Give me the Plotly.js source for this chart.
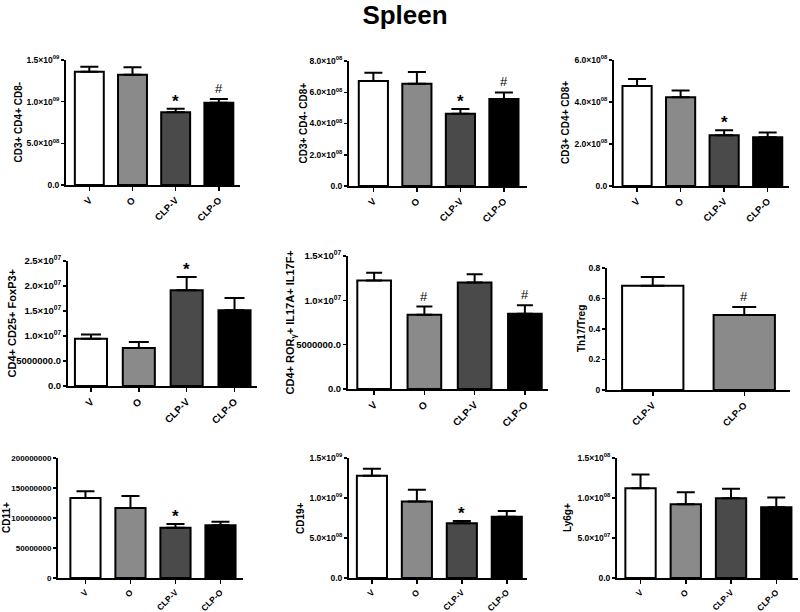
<!DOCTYPE html>
<html>
<head>
<meta charset="utf-8">
<script src="https://cdn.plot.ly/plotly-3.0.1.min.js"></script>
<style>html,body{margin:0;padding:0;background:#fff;}#chart{width:800px;height:612px;}</style>
</head>
<body>
<div id="chart"></div>
<script>
// ---------- DATA ----------
const cats4 = ['V', 'O', 'CLP-V', 'CLP-O'];
const cats2 = ['CLP-V', 'CLP-O'];

const cd3cd4Mean = [1.36e9, 1.324e9, 0.872e9, 0.988e9];
const cd3cd4Sem  = [0.06e9, 0.088e9, 0.044e9, 0.044e9];
const cd3cd4Sig  = ['', '', '*', '#'];

const cd3cd8Mean = [6.72e8, 6.55e8, 4.63e8, 5.57e8];
const cd3cd8Sem  = [0.53e8, 0.75e8, 0.30e8, 0.42e8];
const cd3cd8Sig  = ['', '', '*', '#'];

const dpMean = [4.76e8, 4.23e8, 2.42e8, 2.32e8];
const dpSem  = [0.33e8, 0.32e8, 0.24e8, 0.23e8];
const dpSig  = ['', '', '*', ''];

const tregMean = [0.944e7, 0.758e7, 1.915e7, 1.516e7];
const tregSem  = [0.086e7, 0.12e7, 0.265e7, 0.246e7];
const tregSig  = ['', '', '*', ''];

const th17Mean = [1.2225e7, 0.836e7, 1.2e7, 0.8475e7];
const th17Sem  = [0.09e7, 0.094e7, 0.094e7, 0.0975e7];
const th17Sig  = ['', '#', '', '#'];

const ratioMean = [0.684, 0.491];
const ratioSem  = [0.057, 0.053];
const ratioSig  = ['', '#'];

const cd11Mean = [1.333e8, 1.167e8, 0.839e8, 0.878e8];
const cd11Sem  = [0.111e8, 0.2e8, 0.061e8, 0.061e8];
const cd11Sig  = ['', '', '*', ''];

const cd19Mean = [1.278e9, 0.955e9, 0.683e9, 0.767e9];
const cd19Sem  = [0.088e9, 0.147e9, 0.029e9, 0.071e9];
const cd19Sig  = ['', '', '*', ''];

const ly6gMean = [1.123e8, 0.922e8, 0.997e8, 0.884e8];
const ly6gSem  = [0.172e8, 0.151e8, 0.118e8, 0.122e8];
const ly6gSig  = ['', '', '', ''];

// tick labels
const ticks15e9 = [0, 5e8, 1e9, 1.5e9];
const ticks15e9Text = ['0.0', '5.0×10<sup>08</sup>', '1.0×10<sup>09</sup>', '1.5×10<sup>09</sup>'];
const ticks8e8 = [0, 2e8, 4e8, 6e8, 8e8];
const ticks8e8Text = ['0.0', '2.0×10<sup>08</sup>', '4.0×10<sup>08</sup>', '6.0×10<sup>08</sup>', '8.0×10<sup>08</sup>'];
const ticks6e8 = [0, 2e8, 4e8, 6e8];
const ticks6e8Text = ['0.0', '2.0×10<sup>08</sup>', '4.0×10<sup>08</sup>', '6.0×10<sup>08</sup>'];
const ticks25e7 = [0, 5e6, 1e7, 1.5e7, 2e7, 2.5e7];
const ticks25e7Text = ['0.0', '5000000.0', '1.0×10<sup>07</sup>', '1.5×10<sup>07</sup>', '2.0×10<sup>07</sup>', '2.5×10<sup>07</sup>'];
const ticks15e7 = [0, 5e6, 1e7, 1.5e7];
const ticks15e7Text = ['0.0', '5000000.0', '1.0×10<sup>07</sup>', '1.5×10<sup>07</sup>'];
const ticksRatio = [0, 0.2, 0.4, 0.6, 0.8];
const ticksRatioText = ['0', '0.2', '0.4', '0.6', '0.8'];
const ticks2e8 = [0, 5e7, 1e8, 1.5e8, 2e8];
const ticks2e8Text = ['0', '50000000', '100000000', '150000000', '200000000'];
const ticks15e8 = [0, 5e7, 1e8, 1.5e8];
const ticks15e8Text = ['0.0', '5.0×10<sup>07</sup>', '1.0×10<sup>08</sup>', '1.5×10<sup>08</sup>'];

const yTitles = ['CD3+ CD4+ CD8-', 'CD3+ CD4- CD8+', 'CD3+ CD4+ CD8+',
  'CD4+ CD25+ FoxP3+', 'CD4+ ROR<sub>γ</sub>+ IL17A+ IL17F+', 'Th17/Treg',
  'CD11+', 'CD19+', 'Ly6g+'];

// ---------- STYLE / LAYOUT ----------
const groupColors = {'V': '#ffffff', 'O': '#8a8a8a', 'CLP-V': '#4a4a4a', 'CLP-O': '#000000'};
const ratioColors = ['#ffffff', '#8a8a8a'];

const W = 800, H = 612;
// px boxes: [x0, x1, y0, y1], x range, y max, tick font size, title font size, title x(px), error half-width
const panels = [
  {cats: cats4, mean: cd3cd4Mean, sem: cd3cd4Sem, sig: cd3cd4Sig, box: [66, 240, 60, 185], xr: [-0.54, 3.49], ymax: 1.5e9, tv: ticks15e9, tt: ticks15e9Text, tf: 8.5, xtf: 9.5, ttf: 10, tx: 18, ew: 9},
  {cats: cats4, mean: cd3cd8Mean, sem: cd3cd8Sem, sig: cd3cd8Sig, box: [349, 527, 61, 186], xr: [-0.56, 3.53], ymax: 8e8, tv: ticks8e8, tt: ticks8e8Text, tf: 8.5, xtf: 9.5, ttf: 10, tx: 303, ew: 9},
  {cats: cats4, mean: dpMean, sem: dpSem, sig: dpSig, box: [614, 789, 60, 186], xr: [-0.53, 3.49], ymax: 6e8, tv: ticks6e8, tt: ticks6e8Text, tf: 8.5, xtf: 9.5, ttf: 10, tx: 566, ew: 9},
  {cats: cats4, mean: tregMean, sem: tregSem, sig: tregSig, box: [68, 257, 261, 386], xr: [-0.48, 3.47], ymax: 2.5e7, tv: ticks25e7, tt: ticks25e7Text, tf: 9.5, xtf: 10, ttf: 11, tx: 11, ew: 10},
  {cats: cats4, mean: th17Mean, sem: th17Sem, sig: th17Sig, box: [348, 548, 256, 389], xr: [-0.52, 3.46], ymax: 1.5e7, tv: ticks15e7, tt: ticks15e7Text, tf: 9.5, xtf: 10, ttf: 11, tx: 290, ew: 8},
  {cats: cats2, mean: ratioMean, sem: ratioSem, sig: ratioSig, box: [607, 790, 268, 390], xr: [-0.5, 1.5], ymax: 0.8, tv: ticksRatio, tt: ticksRatioText, tf: 8.5, xtf: 9.5, ttf: 10, tx: 581, ew: 12, colors: ratioColors},
  {cats: cats4, mean: cd11Mean, sem: cd11Sem, sig: cd11Sig, box: [58, 243, 458, 578], xr: [-0.61, 3.5], ymax: 2e8, tv: ticks2e8, tt: ticks2e8Text, tf: 8, xtf: 8.5, ttf: 10, tx: 6, ew: 9},
  {cats: cats4, mean: cd19Mean, sem: cd19Sem, sig: cd19Sig, box: [349, 527, 458, 578], xr: [-0.51, 3.45], ymax: 1.5e9, tv: ticks15e9, tt: ticks15e9Text, tf: 8.5, xtf: 8.5, ttf: 10, tx: 300, ew: 9},
  {cats: cats4, mean: ly6gMean, sem: ly6gSem, sig: ly6gSig, box: [617, 798, 458, 578], xr: [-0.52, 3.48], ymax: 1.5e8, tv: ticks15e8, tt: ticks15e8Text, tf: 8.5, xtf: 8.5, ttf: 10, tx: 567, ew: 9}
];

const FONT = 'Liberation Sans, Arial, sans-serif';
const traces = [];
const layout = {
  width: W, height: H,
  margin: {l: 0, r: 0, t: 0, b: 0},
  paper_bgcolor: '#fff', plot_bgcolor: 'rgba(0,0,0,0)',
  showlegend: false,
  font: {family: FONT, color: '#000'},
  title: {text: '<b>Spleen</b>', font: {family: FONT, size: 26, color: '#000'}, x: 405 / W, xanchor: 'center', y: 1 - 15 / H, yanchor: 'middle'},
  annotations: [],
  bargap: 0.33
};

panels.forEach((p, i) => {
  const n = i + 1;
  const xa = 'xaxis' + (n === 1 ? '' : n), ya = 'yaxis' + (n === 1 ? '' : n);
  const xr = 'x' + (n === 1 ? '' : n), yr = 'y' + (n === 1 ? '' : n);
  const [x0, x1, y0, y1] = p.box;
  const colors = p.colors || p.cats.map(c => groupColors[c]);
  traces.push({
    type: 'bar', x: p.cats, y: p.mean, xaxis: xr, yaxis: yr,
    width: 0.67,
    marker: {color: colors, line: {color: '#000', width: 2}},
    error_y: {type: 'data', symmetric: false, array: p.sem, arrayminus: p.cats.map(() => 0), color: '#000', thickness: 2, width: p.ew},
    hoverinfo: 'none'
  });
  layout[xa] = {
    domain: [x0 / W, x1 / W], anchor: yr, range: p.xr, type: 'category',
    showline: true, linecolor: '#000', linewidth: 2, ticks: 'outside', ticklen: 4, tickwidth: 1.5, tickcolor: '#000',
    tickangle: -45, tickfont: {family: FONT, size: p.xtf, weight: 'bold', color: '#000'},
    showgrid: false, zeroline: false, fixedrange: true
  };
  layout[ya] = {
    domain: [1 - y1 / H, 1 - y0 / H], anchor: xr, range: [0, p.ymax],
    showline: true, linecolor: '#000', linewidth: 2, ticks: 'outside', ticklen: 3, tickwidth: 1.5, tickcolor: '#000',
    tickmode: 'array', tickvals: p.tv, ticktext: p.tt,
    tickfont: {family: FONT, size: p.tf, weight: 'bold', color: '#000'},
    showgrid: false, zeroline: false, fixedrange: true
  };
  // y-axis title
  layout.annotations.push({
    xref: 'paper', yref: 'paper', x: p.tx / W, y: 1 - ((y0 + y1) / 2) / H,
    text: '<b>' + yTitles[i] + '</b>', textangle: -90, showarrow: false,
    xanchor: 'center', yanchor: 'middle', font: {family: FONT, size: p.ttf, color: '#000'}
  });
  // significance marks
  p.sig.forEach((s, k) => {
    if (!s) return;
    layout.annotations.push({
      xref: xr, yref: yr, x: p.cats[k], y: p.mean[k] + p.sem[k],
      text: s === '*' ? '<b>*</b>' : '#', showarrow: false, xanchor: 'center', yanchor: 'bottom',
      yshift: s === '*' ? -4 : 1,
      font: {family: FONT, size: s === '*' ? 17 : 13, color: '#000'}
    });
  });
});

Plotly.newPlot('chart', traces, layout, {staticPlot: true, displayModeBar: false});
</script>
</body>
</html>
